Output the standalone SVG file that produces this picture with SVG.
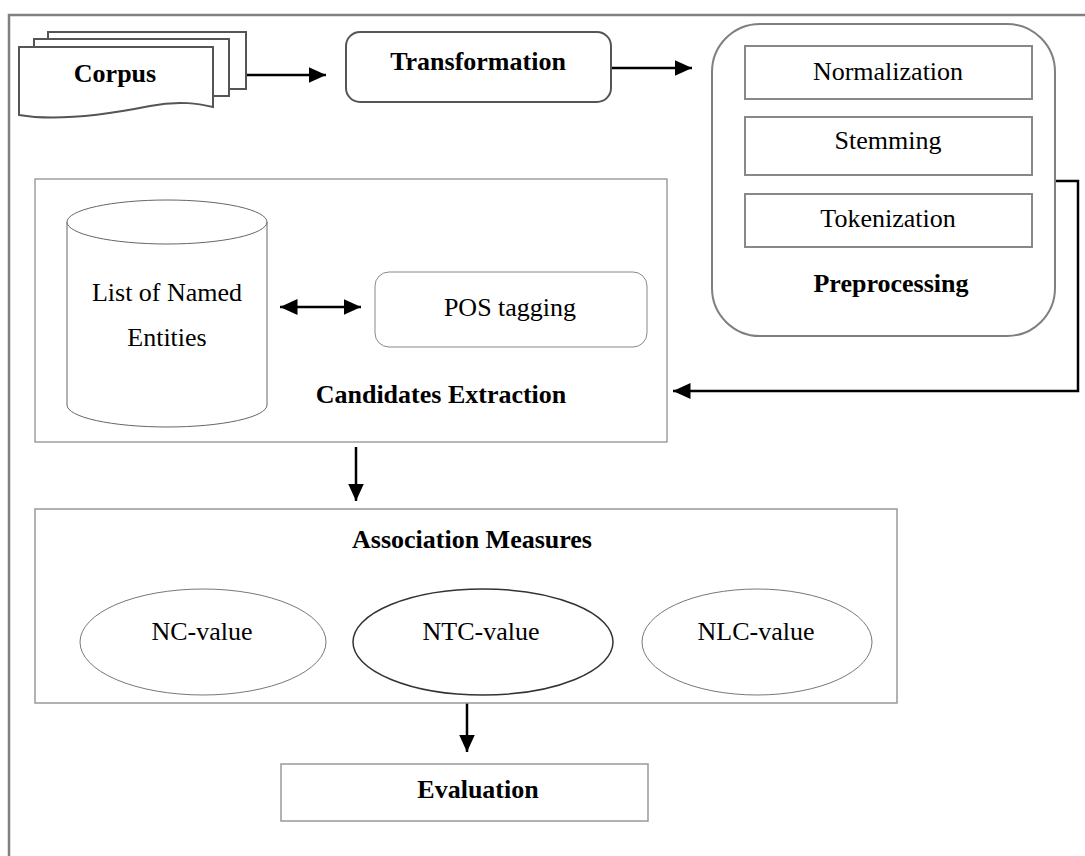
<svg xmlns="http://www.w3.org/2000/svg" width="1085" height="856" viewBox="0 0 1085 856">
<defs>
<style>
text{font-family:"Liberation Serif","Times New Roman",serif;font-size:26px;fill:#000;text-anchor:middle}
.b{font-weight:bold}
.sheet{fill:#fff;stroke:#555;stroke-width:2}
.conn{fill:none;stroke:#000;stroke-width:2.5}
.thin{fill:#fff;stroke:#888;stroke-width:1.2}
</style>
<marker id="ah" markerWidth="8" markerHeight="8" refX="7" refY="4" orient="auto" markerUnits="strokeWidth" viewBox="0 0 8 8">
<path d="M0,0.8 L7,4 L0,7.2 Z" fill="#000"/>
</marker>
<marker id="as" markerWidth="8" markerHeight="8" refX="1" refY="4" orient="auto" markerUnits="strokeWidth" viewBox="0 0 8 8">
<path d="M8,0.8 L1,4 L8,7.2 Z" fill="#000"/>
</marker>
</defs>
<rect width="1085" height="856" fill="#fff"/>
<rect id="frame" x="9" y="15" width="1100" height="900" fill="none" stroke="#808080" stroke-width="2.5"/>

<g id="connectors">
<line class="conn" x1="246" y1="75" x2="326" y2="75" marker-end="url(#ah)"/>
<line class="conn" x1="611" y1="68" x2="692" y2="68" marker-end="url(#ah)"/>
<polyline class="conn" points="1055,181 1078,181 1078,391 673,391" marker-end="url(#ah)"/>
<line class="conn" x1="280" y1="307" x2="361" y2="307" marker-start="url(#as)" marker-end="url(#ah)"/>
<line class="conn" x1="356" y1="447" x2="356" y2="501" marker-end="url(#ah)"/>
<line class="conn" x1="467" y1="703" x2="467" y2="752" marker-end="url(#ah)"/>
</g>

<g id="corpus">
<rect class="sheet" x="48" y="32" width="198" height="57"/>
<rect class="sheet" x="34" y="39" width="195" height="57"/>
<path class="sheet" d="M19,47 H213 V107 C200,104 180,100 150,106 C120,112 60,122 19,115 Z"/>
<text class="b" x="115" y="82">Corpus</text>
</g>

<g id="transformation">
<rect x="346" y="32" width="265" height="70" rx="14" fill="#fff" stroke="#555" stroke-width="2"/>
<text class="b" x="478" y="70">Transformation</text>
</g>

<g id="preprocessing">
<rect x="712" y="24" width="343" height="312" rx="48" fill="#fff" stroke="#7f7f7f" stroke-width="2"/>
<rect x="745" y="46" width="287" height="53" fill="#fff" stroke="#888" stroke-width="2"/>
<text x="888" y="80">Normalization</text>
<rect x="745" y="117" width="287" height="58" fill="#fff" stroke="#888" stroke-width="2"/>
<text x="888" y="149">Stemming</text>
<rect x="745" y="194" width="287" height="53" fill="#fff" stroke="#888" stroke-width="2"/>
<text x="888" y="227">Tokenization</text>
<text class="b" x="891" y="292">Preprocessing</text>
</g>

<g id="candidates">
<rect x="35" y="179" width="632" height="263" fill="none" stroke="#888" stroke-width="1.2"/>
<text class="b" x="441" y="403">Candidates Extraction</text>
</g>

<g id="named-entities">
<path d="M67,222 V405 A100,22 0 0 0 267,405 V222" fill="#fff" stroke="#666" stroke-width="1"/>
<ellipse cx="167" cy="222" rx="100" ry="22" fill="#fff" stroke="#666" stroke-width="1"/>
<text x="167" y="301">List of Named</text>
<text x="167" y="346">Entities</text>
</g>

<g id="pos-tagging">
<rect x="375" y="272" width="272" height="75" rx="14" fill="#fff" stroke="#888" stroke-width="1"/>
<text x="510" y="316">POS tagging</text>
</g>

<g id="association">
<rect x="35" y="509" width="862" height="194" fill="none" stroke="#999" stroke-width="1.5"/>
<text class="b" x="472" y="548">Association Measures</text>
</g>

<g id="nc-value">
<ellipse cx="203" cy="642" rx="123" ry="53" fill="#fff" stroke="#777" stroke-width="1"/>
<text x="202" y="640">NC-value</text>
</g>
<g id="ntc-value">
<ellipse cx="483" cy="642" rx="130" ry="53" fill="#fff" stroke="#333" stroke-width="1.5"/>
<text x="481" y="640">NTC-value</text>
</g>
<g id="nlc-value">
<ellipse cx="757" cy="642" rx="115" ry="53" fill="#fff" stroke="#777" stroke-width="1"/>
<text x="756" y="640">NLC-value</text>
</g>

<g id="evaluation">
<rect x="281" y="764" width="367" height="57" fill="#fff" stroke="#999" stroke-width="1.5"/>
<text class="b" x="478" y="798">Evaluation</text>
</g>
</svg>
